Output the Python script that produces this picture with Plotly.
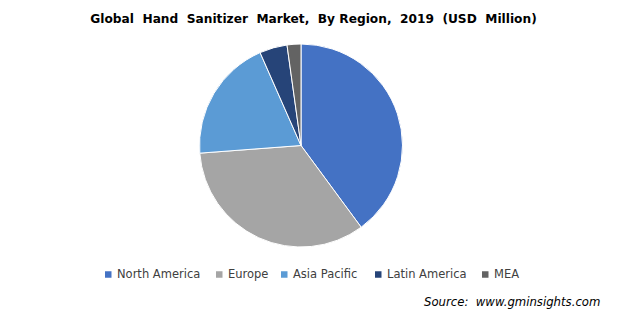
import plotly.graph_objects as go

regions = ["North America", "Europe", "Asia Pacific", "Latin America", "MEA"]
shares = [39.9, 33.9, 19.6, 4.4, 2.2]
colors = ["#4472C4", "#A5A5A5", "#5B9BD5", "#264478", "#636363"]

W, H = 624, 317
cx, cy, r = 301, 145.5, 101.5

fig = go.Figure(go.Pie(
    labels=regions, values=shares, sort=False, direction="clockwise", rotation=0,
    marker=dict(colors=colors, line=dict(color="white", width=1)),
    textinfo="none", hoverinfo="label+value",
    domain=dict(x=[(cx - r) / W, (cx + r) / W], y=[(H - cy - r) / H, (H - cy + r) / H]),
    showlegend=False,
))

# manual legend layout (pixel positions of each legend square's left edge)
legend_x = [105, 216, 281, 375, 482]
legend_y = 274.5
sq = 6.5

shapes = []
annotations = []
for name, col, lx in zip(regions, colors, legend_x):
    shapes.append(dict(type="rect", xref="paper", yref="paper",
                       x0=lx / W, x1=(lx + sq) / W,
                       y0=1 - (legend_y + sq / 2) / H, y1=1 - (legend_y - sq / 2) / H,
                       fillcolor=col, line=dict(width=0)))
    annotations.append(dict(text=name, x=(lx + sq + 3) / W, xanchor="left",
                            y=1 - (legend_y - 0.5) / H, yanchor="middle",
                            xref="paper", yref="paper", showarrow=False,
                            font=dict(size=11.5, family="DejaVu Sans", color="#404040")))

annotations.append(dict(text="<i>Source:  www.gminsights.com</i>", x=602 / W, xanchor="right",
                        y=1 - 302 / H, yanchor="middle", xref="paper", yref="paper",
                        showarrow=False, font=dict(size=11.7, family="DejaVu Sans", color="#000")))

fig.update_layout(
    width=W, height=H, margin=dict(l=0, r=0, t=0, b=0),
    paper_bgcolor="white", plot_bgcolor="white",
    font=dict(family="DejaVu Sans", color="#000000"),
    title=dict(text="<b>Global  Hand  Sanitizer  Market,  By Region,  2019  (USD  Million)</b>",
               x=313.5 / W, xanchor="center", y=1 - 18.5 / H, yanchor="middle",
               font=dict(size=12.2, family="DejaVu Sans", color="#000")),
    showlegend=False,
    shapes=shapes,
    annotations=annotations,
)

fig.write_html("out.html")
